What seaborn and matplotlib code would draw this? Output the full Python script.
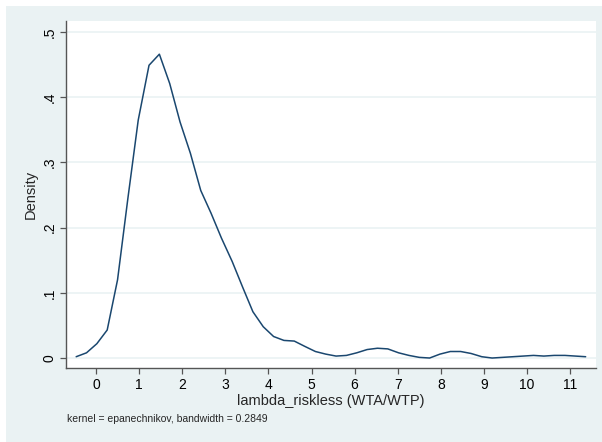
import numpy as np
import pandas as pd
import seaborn as sns
import matplotlib.pyplot as plt
from matplotlib.patches import Rectangle

# kernel density estimate of lambda_riskless, 50 evaluation points
grid_x = [-0.46, -0.22, 0.02, 0.26, 0.50, 0.74, 0.98, 1.23, 1.47, 1.71,
          1.95, 2.19, 2.43, 2.67, 2.91, 3.16, 3.40, 3.64, 3.88, 4.12,
          4.36, 4.60, 4.84, 5.09, 5.33, 5.57, 5.81, 6.05, 6.29, 6.53,
          6.77, 7.02, 7.26, 7.50, 7.74, 7.98, 8.22, 8.46, 8.70, 8.95,
          9.19, 9.43, 9.67, 9.91, 10.15, 10.39, 10.63, 10.88, 11.12, 11.36]
density = [0.002, 0.008, 0.022, 0.043, 0.120, 0.245, 0.365, 0.449, 0.466, 0.421,
           0.362, 0.314, 0.257, 0.222, 0.184, 0.148, 0.109, 0.071, 0.048, 0.033,
           0.027, 0.026, 0.018, 0.010, 0.006, 0.003, 0.004, 0.008, 0.013, 0.015,
           0.014, 0.008, 0.004, 0.001, 0.000, 0.006, 0.010, 0.010, 0.007, 0.002,
           0.000, 0.001, 0.002, 0.003, 0.004, 0.003, 0.004, 0.004, 0.003, 0.002]

x_ticks = list(range(0, 12))
y_ticks = [0, 0.1, 0.2, 0.3, 0.4, 0.5]
y_tick_labels = ['0', '.1', '.2', '.3', '.4', '.5']

bg = '#eaf2f3'
navy = '#1a476f'
axis_col = '#555555'

sns.set_style('white')
plt.rcParams['font.family'] = ['Liberation Sans', 'DejaVu Sans']

df = pd.DataFrame({'x': grid_x, 'density': density})

fig = plt.figure(figsize=(6.02, 4.42), dpi=100, facecolor='white')
# Stata-like outer graph region (thin white margin at top and left)
fig.patches.append(Rectangle((6 / 602, 0), 1, 1 - 6 / 442, transform=fig.transFigure,
                             facecolor=bg, edgecolor='none', zorder=-1))
ax = fig.add_axes([66 / 602, 74 / 442, 530 / 602, 347 / 442])
ax.set_facecolor('white')

sns.lineplot(data=df, x='x', y='density', ax=ax, color=navy, linewidth=1.1)

ax.set_xlim(-0.696, 11.60)
ax.set_ylim(-0.0153, 0.5169)
ax.set_xticks(x_ticks)
ax.set_yticks(y_ticks)
ax.set_yticklabels(y_tick_labels, rotation=90, va='center')
ax.yaxis.grid(True, color=bg, linewidth=1.2)
ax.set_axisbelow(True)

for side in ['top', 'right']:
    ax.spines[side].set_visible(False)
for side in ['left', 'bottom']:
    ax.spines[side].set_color(axis_col)
    ax.spines[side].set_linewidth(1.0)

ax.tick_params(axis='both', direction='out', length=4, width=0.9, color=axis_col,
               labelsize=10, labelcolor='black', pad=3, left=True, bottom=True)

ax.set_xlabel('lambda_riskless (WTA/WTP)', fontsize=10.5, labelpad=2)
ax.set_ylabel('Density', fontsize=10.5, labelpad=3)

fig.text(67 / 602, 1 - 419 / 442, 'kernel = epanechnikov, bandwidth = 0.2849',
         fontsize=7.5, va='center', ha='left')

fig.savefig('out.png', dpi=100, facecolor=fig.get_facecolor())
